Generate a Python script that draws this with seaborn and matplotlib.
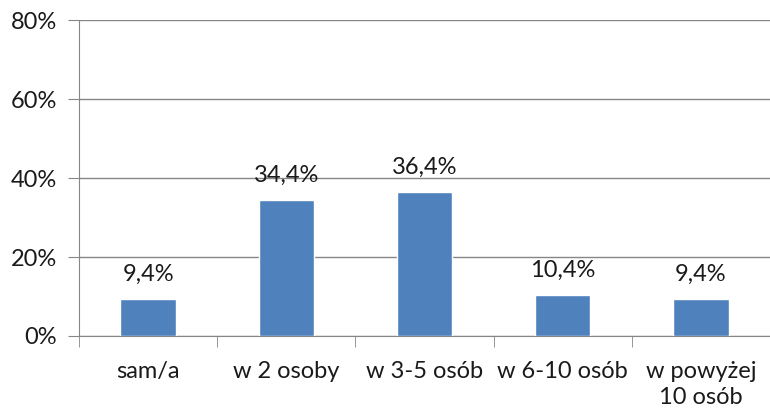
import numpy as np
import pandas as pd
import seaborn as sns
import matplotlib.pyplot as plt
from matplotlib.ticker import FixedLocator, PercentFormatter

# Chart data
categories = ['sam/a', 'w 2 osoby', 'w 3-5 osób', 'w 6-10 osób', 'w powyżej\n10 osób']
values = [9.4, 34.4, 36.4, 10.4, 9.4]
y_ticks = [0, 20, 40, 60, 80]

df = pd.DataFrame({'kategoria': categories, 'procent': values})

sns.set_style('white')
plt.rcParams['font.family'] = ['Lato', 'DejaVu Sans']
plt.rcParams['text.color'] = '#1a1a1a'

fig = plt.figure(figsize=(7.7, 4.12), dpi=100)
ax = fig.add_axes([0.1026, 0.1845, 0.8974, 0.7665])

sns.barplot(data=df, x='kategoria', y='procent', color='#4F81BD',
            width=0.4, saturation=1, ax=ax, zorder=3)

grid_color = '#868686'
ax.set_ylim(0, 80)
ax.set_xlim(-0.5, len(categories) - 0.5)
ax.set_yticks(y_ticks)
ax.yaxis.set_major_formatter(PercentFormatter(decimals=0))
ax.yaxis.grid(True, color=grid_color, linewidth=1, zorder=0)

for side in ['top', 'right']:
    ax.spines[side].set_visible(False)
ax.spines['left'].set_color(grid_color)
ax.spines['bottom'].set_color(grid_color)

ax.tick_params(axis='y', which='major', length=8, color=grid_color,
               direction='out', left=True, labelsize=17, pad=8,
               labelcolor='#1a1a1a')
ax.tick_params(axis='x', which='major', length=0, labelsize=17, pad=18,
               labelcolor='#1a1a1a')
for lbl in ax.get_xticklabels():
    lbl.set_linespacing(1.3)
ax.xaxis.set_minor_locator(FixedLocator(np.arange(-0.5, len(categories), 1.0)))
ax.tick_params(axis='x', which='minor', length=8, color=grid_color,
               direction='out', bottom=True)

ax.set_xlabel('')
ax.set_ylabel('')

for i, v in enumerate(values):
    ax.text(i, v + 3.6, f'{v:.1f}%'.replace('.', ','), ha='center',
            va='bottom', fontsize=17)

fig.savefig('out.png', dpi=100)
